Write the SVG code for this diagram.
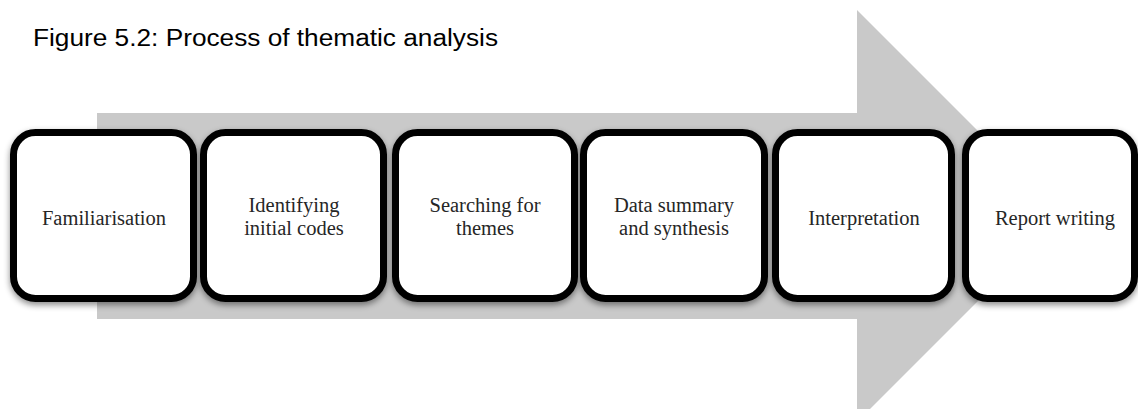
<svg xmlns="http://www.w3.org/2000/svg" width="1138" height="409" viewBox="0 0 1138 409">
<defs>
<style>
.box{fill:#ffffff;stroke:#000000;stroke-width:7;filter:url(#sh)}
.lbl{font-family:"Liberation Serif","DejaVu Serif",serif;font-size:20.5px;fill:#262626;text-anchor:middle}
.title{font-family:"Liberation Sans",Arial,sans-serif;font-size:23px;fill:#000000}
</style>
<filter id="sh" x="-10%" y="-10%" width="120%" height="125%">
<feDropShadow dx="0" dy="3" stdDeviation="3" flood-color="#000000" flood-opacity="0.45"/>
</filter>
</defs>
<rect width="1138" height="409" fill="#ffffff"/>
<text class="title" x="33" y="46" textLength="465" lengthAdjust="spacingAndGlyphs">Figure 5.2: Process of thematic analysis</text>
<g id="connectors">
<polygon points="97,113 857,113 857,10 1063,216 857,422 857,319 97,319" fill="#c9c9c9"/>
</g>
<g id="n1"><rect class="box" x="13.5" y="132.5" width="180" height="166" rx="22"/><text class="lbl" x="104" y="225">Familiarisation</text></g>
<g id="n2"><rect class="box" x="203.5" y="132.5" width="180" height="166" rx="22"/><text class="lbl" x="294" y="211.5">Identifying</text><text class="lbl" x="294" y="234.5">initial codes</text></g>
<g id="n3"><rect class="box" x="395.5" y="132.5" width="179" height="166" rx="22"/><text class="lbl" x="485" y="211.5">Searching for</text><text class="lbl" x="485" y="234.5">themes</text></g>
<g id="n4"><rect class="box" x="583.5" y="132.5" width="181" height="166" rx="22"/><text class="lbl" x="674" y="211.5">Data summary</text><text class="lbl" x="674" y="234.5">and synthesis</text></g>
<g id="n5"><rect class="box" x="775.5" y="132.5" width="176" height="166" rx="22"/><text class="lbl" x="864" y="225">Interpretation</text></g>
<g id="n6"><rect class="box" x="965.5" y="132.5" width="169" height="166" rx="22"/><text class="lbl" x="1055" y="225">Report writing</text></g>
</svg>
